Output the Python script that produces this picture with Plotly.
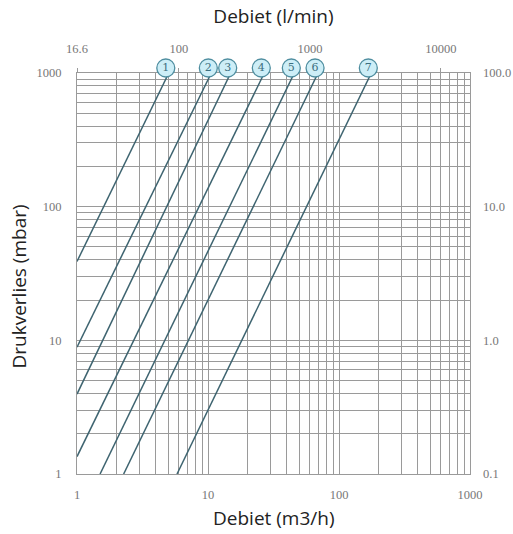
import numpy as np
import plotly.graph_objects as go

# ---- data ----
line_ids = ["1", "2", "3", "4", "5", "6", "7"]
# start points (Q m3/h, dp mbar) at the left/bottom edge of the chart
q_start = [1.0, 1.0, 1.0, 1.0, 1.5, 2.27, 5.8]
dp_start = [38.9, 8.9, 3.96, 1.35, 1.0, 1.0, 1.0]
# end points at the top edge (dp = 1000 mbar)
q_end = [5.02, 10.6, 14.9, 26.9, 45.6, 69.2, 176.5]
dp_end = [1000, 1000, 1000, 1000, 1000, 1000, 1000]

x_ticks = [1, 10, 100, 1000]
x_tick_text = ["1", "10", "100", "1000"]
y_ticks = [1, 10, 100, 1000]
y_tick_text = ["1", "10", "100", "1000"]
kpa_ticks = [0.1, 1, 10, 100]
kpa_tick_text = ["0.1", "1.0", "10.0", "100.0"]
lmin_ticks = [16.6667, 100, 1000, 10000]
lmin_tick_text = ["16.6", "100", "1000", "10000"]
LMIN_PER_M3H = 1000.0 / 60.0
KPA_PER_MBAR = 0.1

minor_vals = [m * d for d in (1, 10, 100) for m in range(2, 10)]

LINE_COLOR = "#3e6470"
GRID = "#9a9a9a"
TICKFONT = dict(family="Liberation Serif", size=12.5, color="#777777")
TITLEFONT = dict(family="Open Sans", size=19, color="#222222")

# ---- layout geometry (pixels) ----
W, H = 513, 534
M_L, M_R, M_B = 77, 43, 60
PLOT_TOP = 73            # top edge of the grid
BADGE_ROOM = 14          # extra room above the grid for the number badges
M_T = PLOT_TOP - BADGE_ROOM
AREA_H = H - M_T - M_B   # height of the paper plot area
GRID_H = H - PLOT_TOP - M_B
PLOT_W = W - M_L - M_R
BADGE_UP = 5             # badge centre is ~5 px above the grid top
BADGE_LEFT = 3           # and ~3 px left of the line end
Y3_TOP = 3 * AREA_H / (GRID_H + BADGE_UP)
DX = 3 * BADGE_LEFT / PLOT_W

fig = go.Figure()

for i, lid in enumerate(line_ids):
    fig.add_trace(go.Scatter(
        x=[q_start[i], q_end[i]], y=[dp_start[i], dp_end[i]],
        mode="lines", line=dict(color=LINE_COLOR, width=1.5),
        name=lid, showlegend=False, hoverinfo="skip",
    ))

# invisible trace carrying the secondary (l/min, kPa) axes
fig.add_trace(go.Scatter(
    x=[q * LMIN_PER_M3H for q in (1, 1000)],
    y=[p * KPA_PER_MBAR for p in (1, 1000)],
    xaxis="x2", yaxis="y2", mode="lines",
    line=dict(width=0, color="rgba(0,0,0,0)"),
    showlegend=False, hoverinfo="skip",
))

# numbered circles at the top of each curve (own hidden subplot)
fig.add_trace(go.Scatter(
    x=q_end, y=dp_end, xaxis="x3", yaxis="y3",
    mode="markers+text", text=line_ids, textposition="middle center",
    textfont=dict(family="DejaVu Serif", size=11, color="#3c6f80"),
    marker=dict(symbol="circle", size=18, color="#cdeef7",
                line=dict(color="#4f8ea0", width=1.3)),
    cliponaxis=False, showlegend=False, hoverinfo="skip",
))

axis_common = dict(
    type="log", showline=True, linecolor=GRID, linewidth=1,
    showgrid=True, gridcolor=GRID, gridwidth=1, zeroline=False,
    tickfont=TICKFONT, ticks="", automargin=False,
    minor=dict(tickmode="array", tickvals=minor_vals, showgrid=True,
               gridcolor=GRID, gridwidth=1, ticks=""),
)
hidden_axis = dict(type="log", automargin=False, showgrid=False,
                   showline=False, zeroline=False, showticklabels=False,
                   ticks="", fixedrange=True)

fig.update_layout(
    width=W, height=H,
    margin=dict(l=M_L, r=M_R, t=M_T, b=M_B, autoexpand=False),
    paper_bgcolor="white", plot_bgcolor="rgba(0,0,0,0)",
    xaxis=dict(axis_common, range=[0, 3], domain=[0, 1], tickmode="array",
               tickvals=x_ticks, ticktext=x_tick_text,
               ticklabelstandoff=9, mirror=True),
    yaxis=dict(axis_common, range=[0, 3], domain=[0, GRID_H / AREA_H],
               tickmode="array", tickvals=y_ticks, ticktext=y_tick_text,
               ticklabelstandoff=12, mirror=True),
    xaxis2=dict(type="log", overlaying="x", side="top", automargin=False,
                range=[np.log10(LMIN_PER_M3H), np.log10(1000 * LMIN_PER_M3H)],
                tickmode="array", tickvals=lmin_ticks, ticktext=lmin_tick_text,
                showgrid=False, showline=False, zeroline=False,
                ticks="outside", ticklen=4, tickcolor=GRID,
                tickfont=TICKFONT, ticklabelstandoff=10),
    yaxis2=dict(type="log", overlaying="y", side="right", automargin=False,
                range=[np.log10(KPA_PER_MBAR), np.log10(1000 * KPA_PER_MBAR)],
                tickmode="array", tickvals=kpa_ticks, ticktext=kpa_tick_text,
                showgrid=False, showline=False, zeroline=False, ticks="",
                tickfont=TICKFONT, ticklabelstandoff=12),
    xaxis3=dict(hidden_axis, domain=[0, 1], anchor="y3", range=[DX, 3 + DX]),
    yaxis3=dict(hidden_axis, domain=[0, 1], anchor="x3", range=[0, Y3_TOP]),
    title=dict(text="Debiet (l/min)", font=TITLEFONT, automargin=False,
               xref="paper", x=0.5, xanchor="center",
               yref="container", y=1 - 16 / H, yanchor="middle"),
)

# axis titles
fig.add_annotation(text="Debiet (m3/h)", xref="paper", yref="paper",
                   x=0.5, y=0, yanchor="middle", yshift=-44,
                   showarrow=False, font=TITLEFONT)
fig.add_annotation(text="Drukverlies (mbar)", xref="paper", yref="paper",
                   x=0, y=GRID_H / AREA_H / 2, xanchor="center", yanchor="middle",
                   xshift=-59, yshift=-13, textangle=-90,
                   showarrow=False, font=TITLEFONT)

fig.write_html("out.html",
               config={"displayModeBar": False},
               post_script="document.body.style.margin='0';"
                           "document.body.style.padding='0';")
